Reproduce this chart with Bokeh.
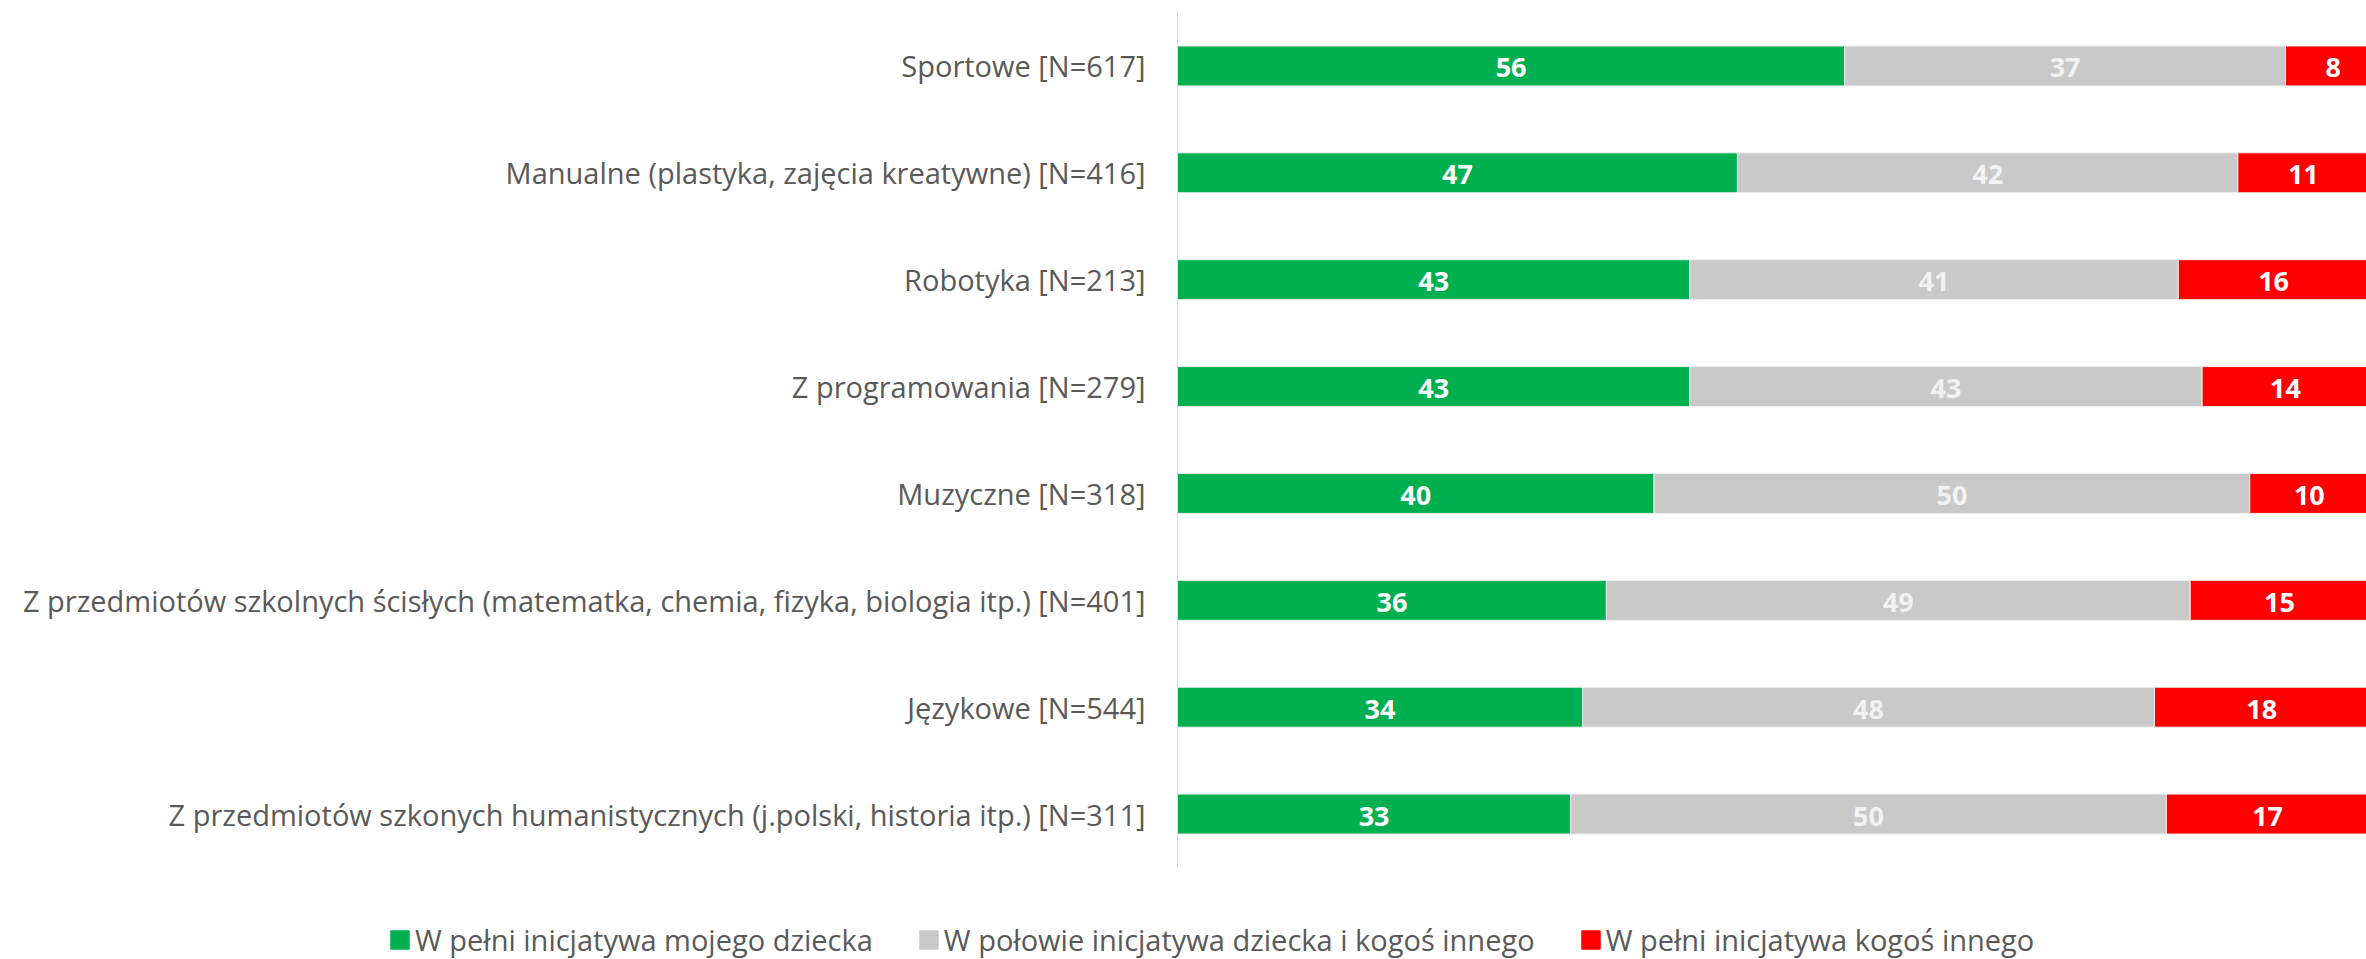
from bokeh.plotting import figure
from bokeh.layouts import column
from bokeh.models import ColumnDataSource, FactorRange, Range1d, Legend
from bokeh.core.properties import value
from bokeh.embed import file_html
from bokeh.resources import INLINE

categories = [
    "Sportowe [N=617]",
    "Manualne (plastyka, zajęcia kreatywne) [N=416]",
    "Robotyka [N=213]",
    "Z programowania [N=279]",
    "Muzyczne [N=318]",
    "Z przedmiotów szkolnych ścisłych (matematka, chemia, fizyka, biologia itp.) [N=401]",
    "Językowe [N=544]",
    "Z przedmiotów szkonych humanistycznych (j.polski, historia itp.) [N=311]",
]
full_child = [56, 47, 43, 43, 40, 36, 34, 33]
half = [37, 42, 41, 43, 50, 49, 48, 50]
full_other = [8, 11, 16, 14, 10, 15, 18, 17]

series_names = [
    "W pełni inicjatywa mojego dziecka",
    "W połowie inicjatywa dziecka i kogoś innego",
    "W pełni inicjatywa kogoś innego",
]
colors = ["#00B050", "#C9C9C9", "#FF0000"]
label_colors = ["#FFFFFF", "#F2F2F2", "#FFFFFF"]
FONT = "Open Sans"

src = ColumnDataSource(dict(cat=categories, a=full_child, b=half, c=full_other))

p = figure(
    width=2366, height=867,
    y_range=FactorRange(*reversed(categories), range_padding=0),
    x_range=Range1d(0, 99.8),
    output_backend="svg", toolbar_location=None,
    min_border_left=1177, min_border_right=0, min_border_top=12, min_border_bottom=0,
)
renderers = p.hbar_stack(["a", "b", "c"], y="cat", height=0.374, color=colors,
                         line_color="#F0F0F0", line_width=1, source=src)

# value labels
keys = ["a", "b", "c"]
for i, key in enumerate(keys):
    centers = []
    for j in range(len(categories)):
        start = sum(src.data[k][j] for k in keys[:i])
        centers.append(start + src.data[key][j] / 2)
    ls = ColumnDataSource(dict(x=centers, y=categories, t=[str(v) for v in src.data[key]]))
    p.text(x="x", y="y", text="t", source=ls, text_align="center", text_baseline="middle",
           text_color=label_colors[i], text_font=value(FONT), text_font_style="bold",
           text_font_size="27px", y_offset=2)

p.xaxis.visible = False
p.xgrid.visible = False
p.ygrid.visible = False
p.outline_line_color = None
p.yaxis.axis_line_color = "#D9D9D9"
p.yaxis.axis_line_width = 1
p.yaxis.major_tick_line_color = None
p.yaxis.minor_tick_line_color = None
p.yaxis.major_tick_out = 0
p.yaxis.major_label_standoff = 32
p.yaxis.major_label_text_font = FONT
p.yaxis.major_label_text_font_size = "29px"
p.yaxis.major_label_text_color = "#595959"

# legend strip below the chart (legend-only glyphs with zero size)
pl = figure(
    width=2366, height=92, x_range=Range1d(0, 1), y_range=Range1d(0, 1),
    output_backend="svg", toolbar_location=None,
    x_axis_location=None, y_axis_location=None,
    min_border_left=0, min_border_right=0, min_border_top=0, min_border_bottom=0,
)
pl.xgrid.visible = False
pl.ygrid.visible = False
pl.outline_line_color = None
leg_renderers = [pl.hbar(y=[0], left=[0], right=[0], height=0, color=c) for c in colors]

legend = Legend(
    items=[(n, [r]) for n, r in zip(series_names, leg_renderers)],
    orientation="horizontal", location=(388, 0),
    label_text_font=FONT, label_text_font_size="29px", label_text_color="#595959",
    glyph_width=23, glyph_height=23, label_standoff=4, spacing=44,
    border_line_color=None, background_fill_alpha=0, margin=0, padding=0,
)
pl.add_layout(legend, "center")

layout = column(p, column(pl, spacing=0), spacing=0)
open("out.html", "w").write(file_html(layout, INLINE))
